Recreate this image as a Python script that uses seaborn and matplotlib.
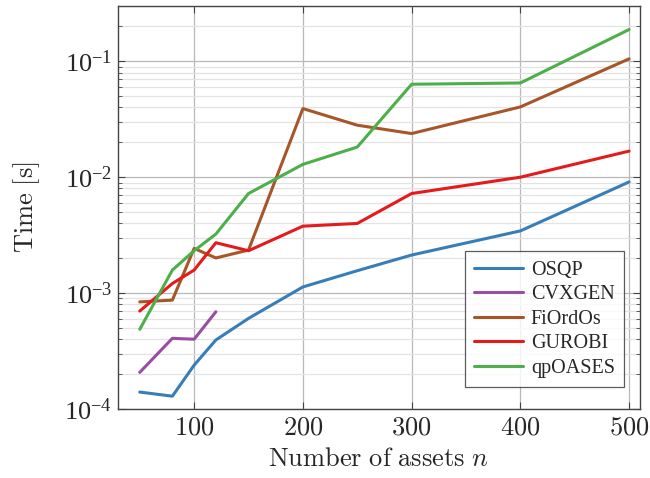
import numpy as np
import pandas as pd
import matplotlib
matplotlib.use("Agg")
import matplotlib.pyplot as plt
import matplotlib.ticker as ticker
import seaborn as sns

# timings (seconds)
n_assets = [50, 80, 100, 120, 150, 200, 250, 300, 400, 500]
n_cvxgen = [50, 80, 100, 120]
osqp = [1.40e-4, 1.29e-4, 2.39e-4, 3.94e-4, 6.05e-4, 1.13e-3, 1.56e-3, 2.13e-3, 3.44e-3, 9.1e-3]
cvxgen = [2.07e-4, 4.07e-4, 4.0e-4, 6.9e-4]
fiordos = [8.4e-4, 8.7e-4, 2.43e-3, 2.01e-3, 2.35e-3, 3.91e-2, 2.81e-2, 2.38e-2, 4.04e-2, 0.105]
gurobi = [7.0e-4, 1.21e-3, 1.58e-3, 2.72e-3, 2.32e-3, 3.78e-3, 3.99e-3, 7.23e-3, 1.0e-2, 1.68e-2]
qpoases = [4.87e-4, 1.58e-3, 2.32e-3, 3.23e-3, 7.23e-3, 1.29e-2, 1.82e-2, 6.34e-2, 6.5e-2, 0.188]

solvers = ["OSQP", "CVXGEN", "FiOrdOs", "GUROBI", "qpOASES"]
PALETTE = ["#377eb8", "#984ea3", "#a65628", "#e41a1c", "#4daf4a"]

frames = []
for name, xs, ys in [("OSQP", n_assets, osqp), ("CVXGEN", n_cvxgen, cvxgen),
                     ("FiOrdOs", n_assets, fiordos), ("GUROBI", n_assets, gurobi),
                     ("qpOASES", n_assets, qpoases)]:
    frames.append(pd.DataFrame({"n": xs, "time": ys, "solver": name}))
data = pd.concat(frames, ignore_index=True)

sns.set_style("white")
plt.rcParams["font.family"] = ["Liberation Serif", "DejaVu Serif"]
plt.rcParams["mathtext.fontset"] = "cm"
plt.rcParams["font.size"] = 17

fig = plt.figure(figsize=(6.5, 4.78), dpi=100)
ax = fig.add_axes([118/650, 1 - 409/478, (640-118)/650, (409-6)/478])

sns.lineplot(data=data, x="n", y="time", hue="solver", hue_order=solvers,
             palette=PALETTE, linewidth=2.2, ax=ax, estimator=None, sort=False)

ax.set_yscale("log")
ax.set_xlim(30, 510)
ax.set_ylim(1e-4, 0.3)
ax.set_xticks([100, 200, 300, 400, 500])
ax.xaxis.set_major_formatter(ticker.FuncFormatter(lambda v, p: f"${int(v)}$"))
ax.yaxis.set_major_locator(ticker.LogLocator(base=10, numticks=10))
ax.yaxis.set_minor_locator(ticker.LogLocator(base=10, subs=np.arange(2, 10), numticks=20))
ax.yaxis.set_minor_formatter(ticker.NullFormatter())

ax.grid(True, which="major", color="#b8b8b8", linewidth=0.9)
ax.grid(True, which="minor", axis="y", color="#e3e3e3", linewidth=0.9)
ax.set_axisbelow(True)
ax.tick_params(which="both", direction="in", left=True, right=True, bottom=True, top=True,
               color="#444444", labelsize=19, pad=6)
ax.tick_params(axis="y", which="major", pad=4)
ax.tick_params(which="major", length=5)
ax.tick_params(which="minor", length=3)
for s in ax.spines.values():
    s.set_color("#444444")
    s.set_linewidth(1.0)

ax.set_xlabel(r"$\mathrm{Number\ of\ assets}\ n$", fontsize=19, labelpad=6)
ax.set_ylabel(r"$\mathrm{Time\ [s]}$", fontsize=19, labelpad=16)

leg = ax.legend(loc="lower right", bbox_to_anchor=(0.969, 0.055), borderaxespad=0,
                fontsize=14.5, frameon=True, fancybox=False, edgecolor="#333333",
                handlelength=2.4, handletextpad=0.4, borderpad=0.45, labelspacing=0.27)
leg.get_frame().set_linewidth(0.9)

fig.savefig("out.png", dpi=100)
